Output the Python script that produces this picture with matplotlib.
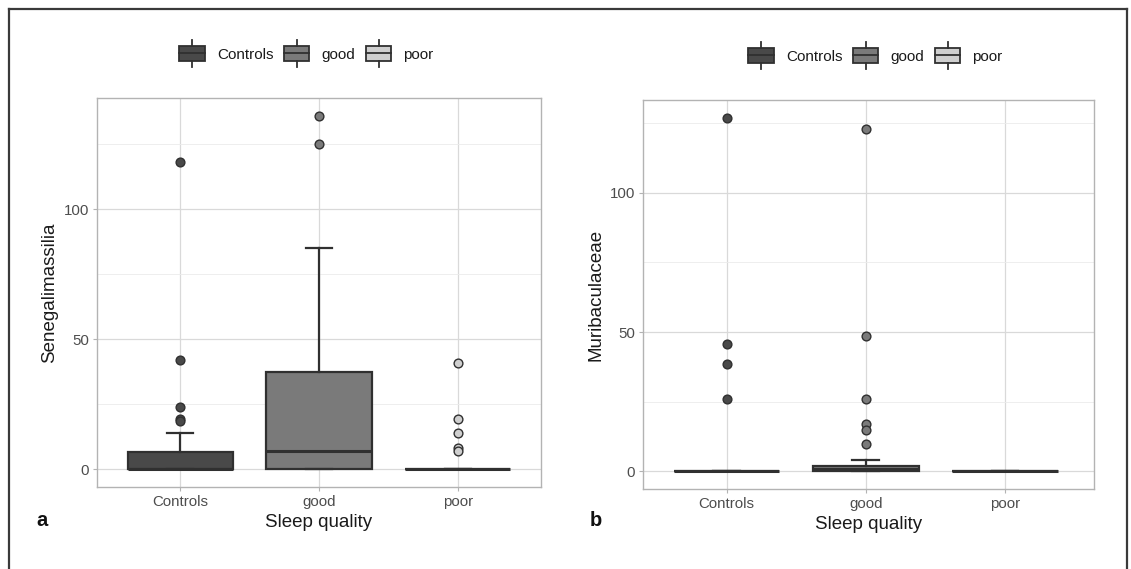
import matplotlib
matplotlib.use("Agg")
import matplotlib.pyplot as plt
from matplotlib.patches import Rectangle, Patch
from matplotlib.lines import Line2D
from matplotlib.legend_handler import HandlerBase
from matplotlib.ticker import MultipleLocator

plt.rcParams['font.family'] = ['Liberation Sans', 'DejaVu Sans']

# ---------------- data ----------------
categories = ["Controls", "good", "poor"]
colors = ["#494949", "#7a7a7a", "#cfcfcf"]

# Panel a: Senegalimassilia
sen_whislo = [0, 0, 0]
sen_q1 = [0, 0, 0]
sen_med = [0, 7.2, 0]
sen_q3 = [6.8, 37.4, 0]
sen_whishi = [14, 85.2, 0]
sen_fliers = [[118, 42, 24, 19.5, 18.7],
              [136, 125.2],
              [41, 19.2, 14.1, 8.3, 7.2]]

# Panel b: Muribaculaceae
mur_whislo = [0, 0, 0]
mur_q1 = [0, 0, 0]
mur_med = [0, 1.0, 0]
mur_q3 = [0, 1.8, 0]
mur_whishi = [0, 4.0, 0]
mur_fliers = [[127, 45.8, 38.7, 25.9],
              [122.8, 48.7, 25.9, 16.9, 14.9, 9.8],
              []]

EDGE = "#303030"
TICKC = "#4d4d4d"
LW = 1.6


class BoxHandler(HandlerBase):
    def create_artists(self, legend, orig_handle, xdescent, ydescent,
                       width, height, fontsize, trans):
        fc = orig_handle.get_facecolor()
        bh = height * 1.45
        x0 = -xdescent
        y0 = -ydescent + (height - bh) / 2
        wl = height * 0.5
        cx = x0 + width / 2
        rect = Rectangle((x0, y0), width, bh, facecolor=fc, edgecolor=EDGE,
                         lw=1.3, transform=trans)
        up = Line2D([cx, cx], [y0 + bh, y0 + bh + wl], color=EDGE, lw=1.3,
                    transform=trans)
        dn = Line2D([cx, cx], [y0 - wl, y0], color=EDGE, lw=1.3,
                    transform=trans)
        md = Line2D([x0, x0 + width], [y0 + bh / 2] * 2, color=EDGE, lw=1.3,
                    transform=trans)
        return [rect, up, dn, md]


def draw_panel(ax, whislo, q1, med, q3, whishi, fliers, ylabel, ylim,
               xlim, leg_x, letter, letter_x):
    stats = []
    for i, c in enumerate(categories):
        stats.append(dict(label=c, whislo=whislo[i], q1=q1[i], med=med[i],
                          q3=q3[i], whishi=whishi[i], fliers=fliers[i]))
    positions = [1, 2, 3]
    bp = ax.bxp(stats, positions=positions, widths=0.76, patch_artist=True,
                showfliers=True, capwidths=0.19,
                boxprops=dict(edgecolor=EDGE, linewidth=LW),
                medianprops=dict(color=EDGE, linewidth=2.2),
                whiskerprops=dict(color=EDGE, linewidth=LW),
                capprops=dict(color=EDGE, linewidth=LW),
                flierprops=dict(marker='o', markersize=6.3,
                                markeredgecolor=EDGE, markeredgewidth=1.0,
                                linestyle='none'),
                zorder=3)
    for patch, col in zip(bp['boxes'], colors):
        patch.set_facecolor(col)
    for fl, col in zip(bp['fliers'], colors):
        fl.set_markerfacecolor(col)

    ax.set_xlim(*xlim)
    ax.set_ylim(*ylim)
    ax.yaxis.set_major_locator(MultipleLocator(50))
    ax.yaxis.set_minor_locator(MultipleLocator(25))
    ax.set_xticks(positions)
    ax.set_xticklabels(categories)
    ax.grid(which='major', color='#d9d9d9', linewidth=0.9, zorder=0)
    ax.grid(which='minor', axis='y', color='#ebebeb', linewidth=0.6, zorder=0)
    ax.set_axisbelow(True)
    for sp in ax.spines.values():
        sp.set_color('#b3b3b3')
        sp.set_linewidth(1.0)
    ax.tick_params(axis='both', which='major', length=3, width=0.8,
                   color='#b3b3b3', labelcolor=TICKC, labelsize=10.8, pad=2.5)
    ax.tick_params(axis='y', which='minor', length=0)
    ax.set_xlabel("Sleep quality", fontsize=13.5, color="#1a1a1a",
                  labelpad=4)
    ax.set_ylabel(ylabel, fontsize=13.5, color="#1a1a1a", labelpad=4)

    handles = [Patch(facecolor=c, edgecolor=EDGE) for c in colors]
    ax.legend(handles, categories, handler_map={Patch: BoxHandler()},
              loc='center', bbox_to_anchor=(leg_x, 1.111), ncol=3,
              frameon=False, fontsize=11.0, handlelength=1.65,
              handletextpad=0.8, columnspacing=0.7, borderpad=0,
              labelcolor='#1a1a1a')
    fig.text(letter_x, 1 - 521 / 569, letter, fontsize=14.5,
             fontweight='bold', ha='center', va='center', color='#111111')


fig = plt.figure(figsize=(11.31, 5.69), dpi=100)
W, H = 1131, 569
ax1 = fig.add_axes([97 / W, 1 - 487 / H, (541 - 97) / W, (487 - 98) / H])
ax2 = fig.add_axes([643 / W, 1 - 489 / H, (1094 - 643) / W, (489 - 100) / H])

draw_panel(ax1, sen_whislo, sen_q1, sen_med, sen_q3, sen_whishi, sen_fliers,
           "Senegalimassilia", (-6.8, 142.8), (0.4, 3.6), 0.472, "a", 42 / W)
draw_panel(ax2, mur_whislo, mur_q1, mur_med, mur_q3, mur_whishi, mur_fliers,
           "Muribaculaceae", (-6.35, 133.35), (0.4, 3.64), 0.5155, "b", 596 / W)

# outer frame (left, top, right)
fc = '#3a3a3a'
lx, rx, ty = 8.5 / W, 1126.5 / W, 1 - 8.5 / H
fig.add_artist(Line2D([lx, lx], [0, ty], transform=fig.transFigure,
                      color=fc, linewidth=1.6))
fig.add_artist(Line2D([lx, rx], [ty, ty], transform=fig.transFigure,
                      color=fc, linewidth=1.6))
fig.add_artist(Line2D([rx, rx], [0, ty], transform=fig.transFigure,
                      color=fc, linewidth=1.6))

fig.savefig("out.png", dpi=100)
